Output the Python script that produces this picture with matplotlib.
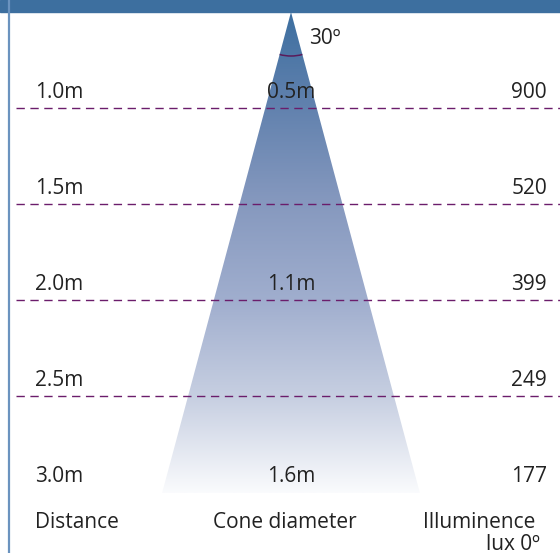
import numpy as np
import matplotlib.pyplot as plt
from matplotlib.patches import Polygon, Rectangle, Arc

# data
distances = ['1.0m', '1.5m', '2.0m', '2.5m', '3.0m']
diameters = ['0.5m', '', '1.1m', '', '1.6m']
lux = ['900', '520', '399', '249', '177']
beam_angle = 30

plt.rcParams['font.family'] = ['Open Sans', 'DejaVu Sans']

W, H = 560, 553
fig = plt.figure(figsize=(W / 100, H / 100), dpi=100)
ax = fig.add_axes([0, 0, 1, 1])
ax.set_xlim(0, W)
ax.set_ylim(H, 0)
ax.axis('off')

blue = '#3d6f9f'
# top bar + left border
ax.add_patch(Rectangle((0, 0), W, 12, color=blue, zorder=5))
ax.plot([9, 9], [0, H], color='#6b93bf', lw=1.6, zorder=5)

# cone
apex_x, apex_y, bottom_y = 291, 12, 493
half = np.tan(np.radians(beam_angle / 2)) * (bottom_y - apex_y)
cone = Polygon([(apex_x, apex_y), (apex_x - half, bottom_y), (apex_x + half, bottom_y)],
               closed=True, facecolor='none', edgecolor='none')
ax.add_patch(cone)
# gradient stops (pixel y -> rgb)
stop_y = [12, 100, 200, 300, 400, 493]
stop_c = np.array([(61, 111, 160), (95, 128, 173), (133, 152, 190),
                   (160, 174, 206), (200, 208, 226), (250, 251, 253)]) / 255
ys = np.linspace(apex_y, bottom_y, 400)
col = np.stack([np.interp(ys, stop_y, stop_c[:, k]) for k in range(3)], axis=1)
grad = np.repeat(col[:, None, :], 2, axis=1)
im = ax.imshow(grad, extent=(apex_x - half, apex_x + half, bottom_y, apex_y),
               aspect='auto', zorder=1, interpolation='bilinear')
im.set_clip_path(cone)

# angle arc
r = 44
ax.add_patch(Arc((apex_x, apex_y), 2 * r, 2 * r, theta1=90 - beam_angle / 2,
                 theta2=90 + beam_angle / 2, color='#5a1a5a', lw=1.1, zorder=3))
ax.text(309, 38, f'{beam_angle}º', fontsize=15, va='center', ha='left', color='#222222')

# rows
purple = '#6b1d6b'
fs = 15
for i in range(len(distances)):
    y = 93 + 96 * i
    ax.text(35, y, distances[i], fontsize=fs, va='center', ha='left', color='#222222', zorder=4)
    ax.text(apex_x, y, diameters[i], fontsize=fs, va='center', ha='center', color='#222222', zorder=4)
    ax.text(547, y, lux[i], fontsize=fs, va='center', ha='right', color='#222222', zorder=4)
    if i < len(distances) - 1:
        ax.plot([16, W], [y + 15, y + 15], color=purple, lw=1, ls=(0, (6, 4)), zorder=2)

# headers
ax.text(35, 523, 'Distance', fontsize=fs, va='center', ha='left', color='#222222')
ax.text(285, 523, 'Cone diameter', fontsize=fs, va='center', ha='center', color='#222222')
ax.text(535, 523, 'Illuminence', fontsize=fs, va='center', ha='right', color='#222222')
ax.text(540, 544, 'lux 0º', fontsize=fs, va='center', ha='right', color='#222222')

fig.savefig('out.png', dpi=100)
